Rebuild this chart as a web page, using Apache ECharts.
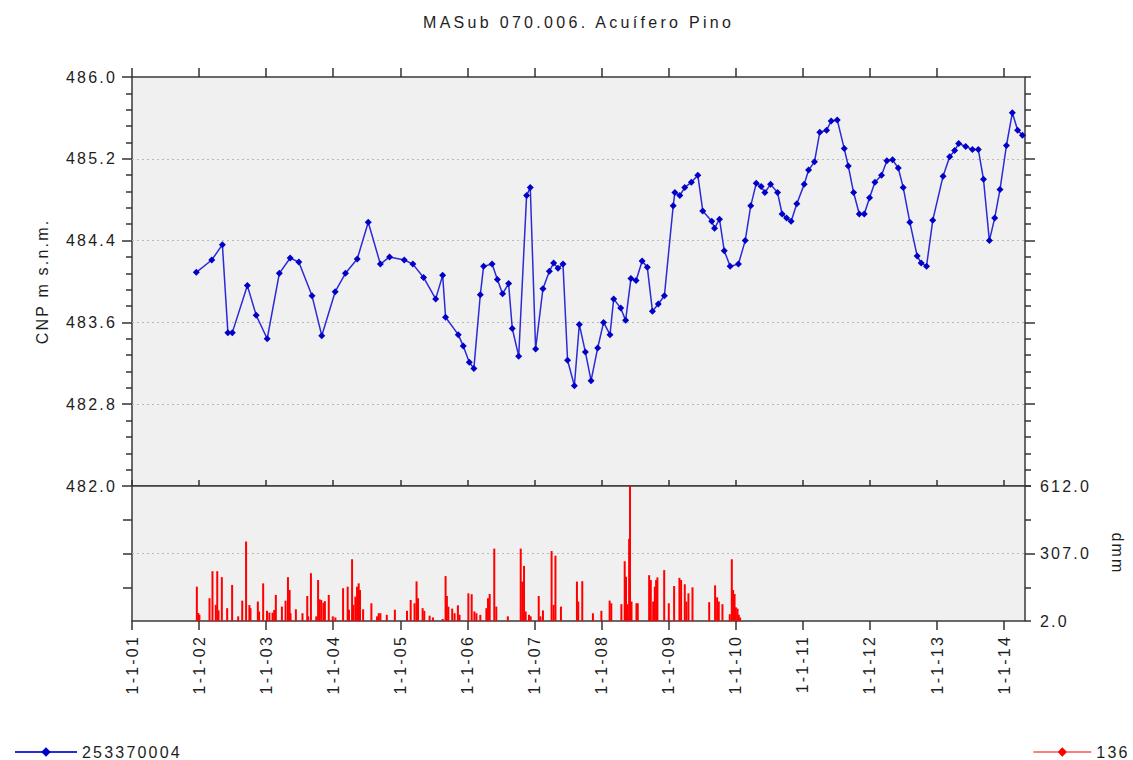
<!DOCTYPE html>
<html>
<head>
<meta charset="utf-8">
<script src="https://cdn.jsdelivr.net/npm/echarts@6/dist/echarts.min.js"></script>
<style>
html,body{margin:0;padding:0;background:#fff;}
#chart{width:1133px;height:760px;}
#chart text{letter-spacing:2.2px;}
#chart text[style*="Arimo"]{letter-spacing:3.3px;}
</style>
</head>
<body>
<div id="chart"></div>
<script>
// ---- Data ----
const chartTitle = 'MASub 070.006. Acuífero Pino';
const levelSeriesName = '253370004';
const rainSeriesName = '136';
const levelAxisName = 'CNP m s.n.m.';
const rainAxisName = 'dmm';

const waterDates = ['2001-12-17','2002-03-11','2002-05-08','2002-06-07','2002-07-01','2002-09-21','2002-11-08','2003-01-07','2003-03-14','2003-05-12',
'2003-06-28','2003-09-08','2003-10-31','2004-01-12','2004-03-08','2004-05-11','2004-07-10','2004-09-14','2004-11-03','2005-01-22',
'2005-03-10','2005-05-07','2005-07-12','2005-08-19','2005-09-04','2005-11-12','2005-12-09','2006-01-11','2006-02-05','2006-03-12',
'2006-03-30','2006-05-15','2006-06-13','2006-07-11','2006-08-13','2006-09-02','2006-10-07','2006-11-19','2006-12-09','2007-01-07',
'2007-02-16','2007-03-23','2007-04-15','2007-05-09','2007-06-05','2007-06-30','2007-08-06','2007-09-02','2007-10-05','2007-11-05',
'2007-12-11','2008-01-12','2008-02-16','2008-03-07','2008-04-14','2008-05-11','2008-06-09','2008-07-07','2008-08-09','2008-09-06',
'2008-10-04','2008-11-05','2008-12-08','2009-01-25','2009-02-03','2009-03-02','2009-03-29','2009-05-04','2009-06-08','2009-07-05',
'2009-08-23','2009-09-07','2009-10-04','2009-10-30','2009-12-01','2010-01-15','2010-02-21','2010-03-23','2010-04-22','2010-05-19',
'2010-06-08','2010-07-09','2010-08-16','2010-09-10','2010-10-04','2010-10-29','2010-11-29','2011-01-08','2011-02-01','2011-03-05',
'2011-04-03','2011-05-10','2011-06-04','2011-07-07','2011-08-14','2011-09-05','2011-10-04','2011-11-04','2011-12-01','2011-12-30',
'2012-01-28','2012-03-04','2012-04-02','2012-05-03','2012-06-03','2012-06-30','2012-08-05','2012-09-14','2012-10-06','2012-11-04',
'2012-12-08','2013-02-02','2013-03-10','2013-04-06','2013-04-28','2013-06-05','2013-07-12','2013-08-13','2013-09-10','2013-10-12',
'2013-11-10','2013-12-09','2014-01-13','2014-02-14','2014-03-15','2014-04-10'];

const waterLevels = [484.09,484.21,484.36,483.50,483.50,483.96,483.67,483.44,484.08,484.23,
484.19,483.86,483.47,483.90,484.08,484.22,484.58,484.17,484.24,484.21,
484.17,484.04,483.83,484.06,483.65,483.48,483.37,483.21,483.15,483.87,
484.15,484.17,484.02,483.88,483.98,483.54,483.27,484.84,484.92,483.34,
483.93,484.10,484.18,484.13,484.17,483.23,482.98,483.58,483.31,483.03,
483.35,483.60,483.48,483.83,483.74,483.62,484.03,484.01,484.20,484.14,
483.71,483.78,483.86,484.74,484.87,484.84,484.92,484.97,485.04,484.69,
484.59,484.52,484.61,484.30,484.15,484.17,484.40,484.74,484.96,484.93,
484.87,484.95,484.87,484.66,484.62,484.59,484.76,484.95,485.09,485.17,
485.46,485.48,485.57,485.58,485.30,485.13,484.87,484.66,484.66,484.82,
484.97,485.04,485.18,485.19,485.11,484.92,484.58,484.25,484.18,484.15,
484.60,485.03,485.22,485.28,485.35,485.32,485.29,485.29,485.00,484.40,
484.62,484.90,485.33,485.65,485.48,485.43];

const rainDates = ['2001-12-20','2001-12-28','2002-01-03','2002-02-27','2002-03-15','2002-04-02','2002-04-10','2002-04-17','2002-05-05','2002-06-03',
'2002-06-30','2002-08-02','2002-08-24','2002-09-14','2002-10-02','2002-10-08','2002-11-17','2002-11-24','2002-12-16','2003-01-06',
'2003-01-19','2003-02-05','2003-02-14','2003-02-23','2003-03-28','2003-04-17','2003-04-30','2003-05-09','2003-05-14','2003-06-12',
'2003-07-18','2003-08-13','2003-08-18','2003-09-02','2003-10-01','2003-10-11','2003-10-19','2003-10-28','2003-11-09','2003-11-17',
'2003-12-08','2003-12-30','2004-01-13','2004-02-24','2004-03-20','2004-03-27','2004-04-13','2004-04-20','2004-05-01','2004-05-10',
'2004-05-19','2004-05-26','2004-06-12','2004-07-27','2004-08-27','2004-09-05','2004-09-14','2004-10-19','2004-12-02','2005-02-06',
'2005-02-26','2005-03-19','2005-03-30','2005-04-07','2005-05-02','2005-05-11','2005-06-09','2005-06-27','2005-08-19','2005-09-04',
'2005-09-11','2005-09-19','2005-10-10','2005-10-23','2005-11-10','2005-11-19','2006-01-06','2006-01-24','2006-02-08','2006-02-19',
'2006-03-12','2006-04-14','2006-04-23','2006-05-02','2006-05-27','2006-06-07','2006-08-09','2006-10-18','2006-10-27','2006-11-05',
'2006-11-14','2006-12-02','2006-12-11','2007-01-24','2007-02-02','2007-02-16','2007-04-04','2007-04-15','2007-04-25','2007-05-25',
'2007-08-20','2007-08-27','2007-09-18','2007-11-15','2007-12-31','2008-02-14','2008-02-23','2008-04-18','2008-05-06','2008-05-13',
'2008-05-21','2008-05-30','2008-06-04','2008-06-12','2008-07-09','2008-07-16','2008-09-16','2008-09-25','2008-10-08','2008-10-17',
'2008-10-24','2008-10-31','2008-12-07','2009-01-01','2009-01-30','2009-02-28','2009-03-09','2009-03-29','2009-04-07','2009-04-18',
'2009-05-10','2009-08-09','2009-09-10','2009-09-21','2009-09-30','2009-10-20','2009-11-29','2009-12-10','2009-12-17','2009-12-25',
'2010-01-01','2010-01-10','2010-01-17','2010-01-24'];

const rainValues = [157,38,30,105,227,75,227,50,200,60,
165,23,94,361,74,60,90,45,172,48,
40,40,52,120,67,94,200,142,37,55,
37,115,23,218,23,187,100,97,85,92,
120,23,18,150,157,53,281,75,112,157,
172,142,55,82,23,37,37,30,53,48,
97,82,181,105,60,48,26,18,11,205,
115,67,58,37,73,30,127,123,45,37,
30,60,105,124,329,67,23,329,180,251,
45,30,23,115,23,50,318,75,297,67,
180,90,182,37,48,94,82,78,272,202,
78,373,612,90,82,82,209,187,90,157,
187,199,232,82,160,197,187,168,90,127,
154,87,163,109,90,78,33,281,142,124,
64,58,30,18];

const yearTickLabels = ['2001-01-01','2002-01-01','2003-01-01','2004-01-01','2005-01-01','2006-01-01','2007-01-01',
'2008-01-01','2009-01-01','2010-01-01','2011-01-01','2012-01-01','2013-01-01','2014-01-01'];
const axisStart = '2001-01-01';
const axisEnd = '2014-04-24';
const levelMin = 482.0, levelMax = 486.0;
const levelMajorTicks = [482.0, 482.8, 483.6, 484.4, 485.2, 486.0];
const levelMinorPerMajor = 5;
const rainMin = 2.0, rainMax = 612.0;
const rainMajorTicks = [2.0, 307.0, 612.0];
const rainMinorTicks = [154.5, 459.5];

// ---- Derived helpers ----
function ts(s) {
  const p = s.split('-').map(Number);
  return new Date(p[0], p[1] - 1, p[2]).getTime();
}
const yearTicks = yearTickLabels.map(ts);
const levelMinorTicks = [];
for (let i = 0; i < levelMajorTicks.length - 1; i++) {
  const a = levelMajorTicks[i], b = levelMajorTicks[i + 1];
  for (let k = 1; k < levelMinorPerMajor; k++) levelMinorTicks.push(+(a + (b - a) * k / levelMinorPerMajor).toFixed(4));
}
const levelInnerMajors = levelMajorTicks.slice(1, -1);
const rainInnerMajors = rainMajorTicks.slice(1, -1);

const FONT = '"Liberation Sans", Arial, Helvetica, sans-serif';
const TITLE_FONT = 'Arimo, "Liberation Sans", Arial, sans-serif';
const AX = '#333';
const TXT = '#1e1e1e';
const gridDot = {show: true, lineStyle: {color: '#b8b8b8', type: [2, 3], width: 1}};

function fmtDate(v) {
  const d = new Date(v);
  return d.getDate() + '-' + (d.getMonth() + 1) + '-' + String(d.getFullYear()).slice(2);
}

function yAx(grid, pos, min, max, ticks, len, extra) {
  return Object.assign({
    type: 'value', gridIndex: grid, position: pos, min: min, max: max,
    axisLine: {show: false},
    axisTick: {show: true, customValues: ticks, length: len, inside: false, lineStyle: {color: AX, width: 1.5}},
    axisLabel: {show: false},
    splitLine: {show: false}
  }, extra || {});
}

function xAx(grid, pos, len, inside, extra) {
  return Object.assign({
    type: 'value', gridIndex: grid, position: pos, min: ts(axisStart), max: ts(axisEnd),
    axisLine: {show: false},
    axisTick: {show: true, customValues: yearTicks, length: len, inside: inside, lineStyle: {color: AX, width: 1.5}},
    axisLabel: {show: false},
    splitLine: {show: false}
  }, extra || {});
}

const chart = echarts.init(document.getElementById('chart'), null, {renderer: 'svg'});

const legendIconPath = 'path://M0,5.5H62V6.5H0Z M26,6L31,1L36,6L31,11Z M0,0H0.01V0.01H0Z M0,12H0.01V12.01H0Z';

const option = {
  animation: false,
  backgroundColor: '#ffffff',
  textStyle: {fontFamily: FONT},
  title: {
    text: chartTitle, left: 418, top: 9,
    textStyle: {fontSize: 16, fontWeight: 'normal', color: TXT, fontFamily: TITLE_FONT}
  },
  legend: [
    {
      left: 14, top: 744, padding: 0, itemWidth: 62, itemHeight: 12,
      data: [levelSeriesName],
      textStyle: {fontSize: 16, color: TXT, fontFamily: FONT}
    },
    {
      right: 10, top: 744, padding: 0, itemWidth: 58, itemHeight: 12,
      data: [{name: rainSeriesName, icon: legendIconPath}],
      textStyle: {fontSize: 16, color: TXT, fontFamily: FONT}
    }
  ],
  grid: [
    {left: 132, right: 108, top: 77, height: 409, show: true, backgroundColor: '#f0f0f0', borderColor: '#3a3a3a', borderWidth: 1.5},
    {left: 132, right: 108, top: 486, height: 135, show: true, backgroundColor: '#f0f0f0', borderColor: '#3a3a3a', borderWidth: 1.5}
  ],
  xAxis: [
    xAx(0, 'top', 9, false),
    xAx(0, 'bottom', 6, true),
    xAx(1, 'bottom', 9, false, {
      axisLabel: {show: true, customValues: yearTicks, rotate: 90, margin: 14, formatter: fmtDate,
        fontSize: 16, color: TXT, fontFamily: FONT}
    })
  ],
  yAxis: [
    yAx(0, 'left', levelMin, levelMax, levelMinorTicks, 6, {
      axisLabel: {show: true, customValues: levelMajorTicks, formatter: v => v.toFixed(1), margin: 15,
        fontSize: 16, color: TXT, fontFamily: FONT},
      name: levelAxisName, nameLocation: 'middle', nameRotate: 90, nameGap: 82,
      nameTextStyle: {fontSize: 16, color: TXT, fontFamily: FONT}
    }),
    yAx(0, 'left', levelMin, levelMax, levelMajorTicks, 10),
    yAx(0, 'right', levelMin, levelMax, levelMinorTicks.concat([levelMin, levelMax]), 6),
    yAx(0, 'right', levelMin, levelMax, levelInnerMajors, 10, {splitLine: gridDot}),
    yAx(1, 'right', rainMin, rainMax, rainMinorTicks.concat([rainMin, rainMax]), 6, {
      axisLabel: {show: true, customValues: rainMajorTicks, formatter: v => v.toFixed(1), margin: 15,
        fontSize: 16, color: TXT, fontFamily: FONT},
      name: rainAxisName, nameLocation: 'middle', nameRotate: -90, nameGap: 84,
      nameTextStyle: {fontSize: 16, color: TXT, fontFamily: FONT}
    }),
    yAx(1, 'right', rainMin, rainMax, rainInnerMajors, 10, {splitLine: gridDot}),
    yAx(1, 'left', rainMin, rainMax, rainMinorTicks.concat(rainInnerMajors), 9)
  ],
  series: [
    {
      name: levelSeriesName, type: 'line', xAxisIndex: 0, yAxisIndex: 0,
      data: waterDates.map((d, i) => [ts(d), waterLevels[i]]),
      symbol: 'diamond', symbolSize: 7, showSymbol: true, showAllSymbol: true,
      lineStyle: {color: '#2a2ad6', width: 1.5},
      itemStyle: {color: '#0000c8'},
      clip: true
    },
    {
      name: rainSeriesName, type: 'bar', xAxisIndex: 2, yAxisIndex: 4,
      data: rainDates.map((d, i) => [ts(d), rainValues[i]]),
      barWidth: 2,
      itemStyle: {color: '#ff0000'},
      clip: true
    }
  ]
};
chart.setOption(option);
</script>
</body>
</html>
